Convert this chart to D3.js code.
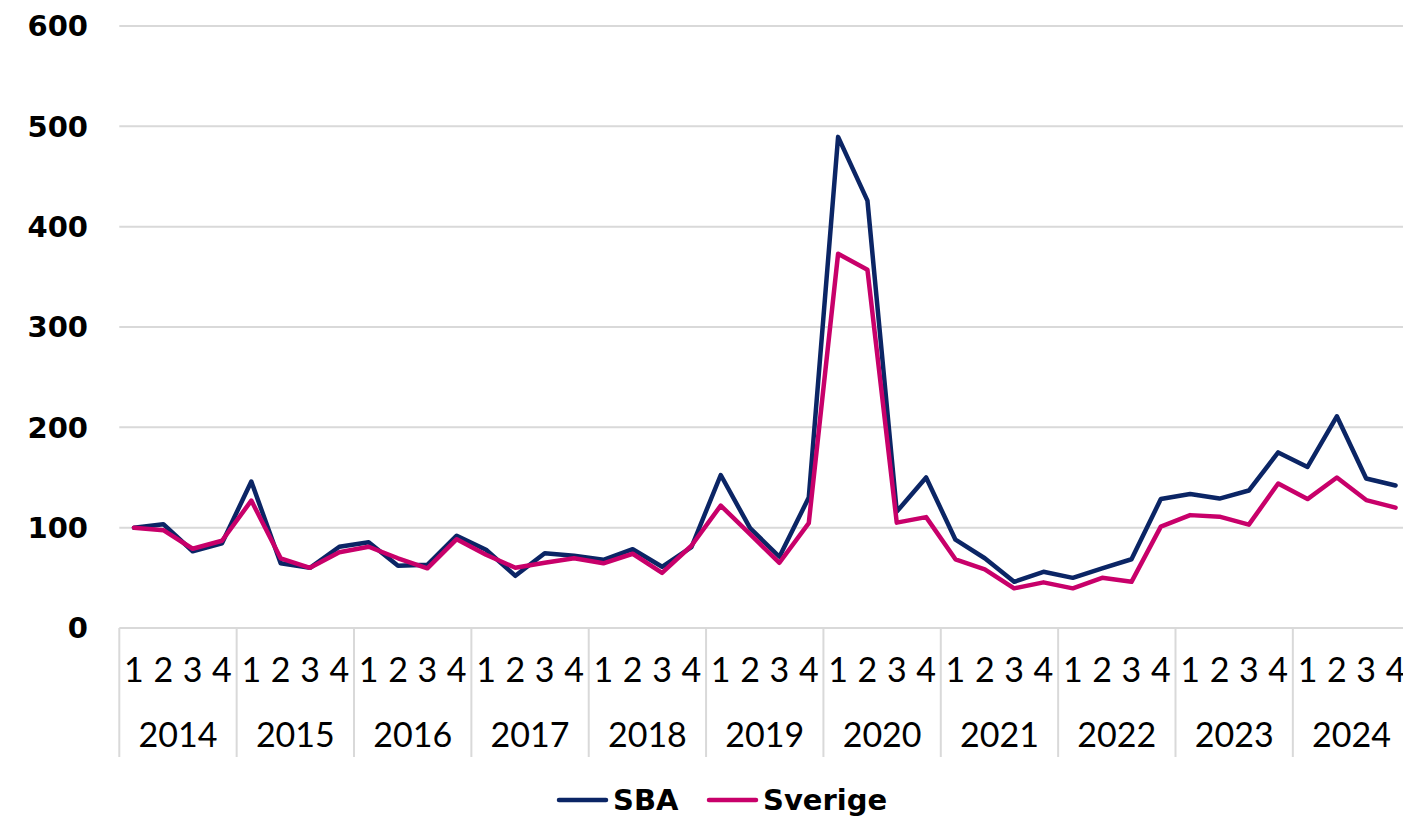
<!DOCTYPE html>
<html>
<head>
<meta charset="utf-8">
<script src="https://cdn.jsdelivr.net/npm/d3@7"></script>
<style>
  body { margin: 0; background: #fff; }
  svg { display: block; }
</style>
</head>
<body>
<script>
// data, index 100 = 2014 Q1
const years = ["2014","2015","2016","2017","2018","2019","2020","2021","2022","2023","2024"];
const quarters = ["1","2","3","4"];
const sba = [100,103.5,76.5,84.5, 146,64.5,60,81, 85.5,62,63,92, 78,52,74.5,72,
             68,78.5,61,80.5, 152.5,99.5,71,130, 489.5,426,116,150, 88,69.5,46,56,
             50,59.5,68.5,128.5, 133.5,129,137,175, 160.5,211,149,142];
const sverige = [100,97.5,79,87, 127,69.5,60,75.5, 81,69.5,59.5,88.5, 73,60,65,69.5,
                 64.5,74,55,82, 122,93.5,65,104.5, 373,357,105,110.5, 68.5,58.5,39.5,45.5,
                 39.5,50,46,101, 112.5,111,103,144, 128.5,150,127.5,120];
const yTicks = [0,100,200,300,400,500,600];
const seriesNames = ["SBA","Sverige"];
const seriesColors = ["#0b2565","#c8006a"];

const W = 1403, H = 817;
const plotLeft = 119.3, plotRight = 1410.2, plotTop = 26, plotBottom = 628;
const boldFont = "'DejaVu Sans', Lato, sans-serif";
const thinFont = "Lato, 'DejaVu Sans', sans-serif";

const svg = d3.select("body").append("svg")
  .attr("width", W).attr("height", H);

const keys = [];
years.forEach(y => quarters.forEach(q => keys.push(y + "-" + q)));

const x = d3.scalePoint().domain(keys).range([plotLeft, plotRight]).padding(0.5);
const xYear = d3.scaleBand().domain(years).range([plotLeft, plotRight]);
const y = d3.scaleLinear().domain([0, 600]).range([plotBottom, plotTop]);

// gridlines
svg.append("g").selectAll("line").data(yTicks.filter(d => d > 0)).join("line")
  .attr("x1", plotLeft).attr("x2", plotRight)
  .attr("y1", d => y(d)).attr("y2", d => y(d))
  .attr("stroke", "#d9d9d9").attr("stroke-width", 2);

// y labels
svg.append("g").selectAll("text").data(yTicks).join("text")
  .attr("x", 88).attr("y", d => y(d))
  .attr("dy", "0.36em")
  .attr("text-anchor", "end")
  .style("font-family", boldFont)
  .style("font-weight", "bold").style("font-size", "29px")
  .attr("fill", "#000")
  .text(d => d);

// x axis line + year separators
const axisG = svg.append("g");
axisG.append("line")
  .attr("x1", plotLeft).attr("x2", plotRight).attr("y1", plotBottom).attr("y2", plotBottom)
  .attr("stroke", "#d9d9d9").attr("stroke-width", 2);
const bounds = years.map(d => xYear(d)).concat([plotRight]);
axisG.selectAll("line.sep").data(bounds).join("line").attr("class", "sep")
  .attr("x1", d => d).attr("x2", d => d)
  .attr("y1", plotBottom).attr("y2", 757)
  .attr("stroke", "#d9d9d9").attr("stroke-width", 2);

// quarter labels
axisG.selectAll("text.q").data(keys).join("text").attr("class", "q")
  .attr("x", d => x(d)).attr("y", 670)
  .attr("dy", "0.36em").attr("text-anchor", "middle")
  .style("font-family", thinFont)
  .style("font-size", "34px").attr("fill", "#000")
  .text(d => d.split("-")[1]);

// year labels
axisG.selectAll("text.yr").data(years).join("text").attr("class", "yr")
  .attr("x", d => xYear(d) + xYear.bandwidth() / 2).attr("y", 735)
  .attr("dy", "0.36em").attr("text-anchor", "middle")
  .style("font-family", thinFont)
  .style("font-size", "34px").attr("fill", "#000")
  .text(d => d);

// lines
const line = d3.line().x((d, i) => x(keys[i])).y(d => y(d));
[sba, sverige].forEach((vals, k) => {
  svg.append("path")
    .datum(vals)
    .attr("d", line)
    .attr("fill", "none")
    .attr("stroke", seriesColors[k])
    .attr("stroke-width", 4.5)
    .attr("stroke-linejoin", "round")
    .attr("stroke-linecap", "round");
});

// legend
const legendX = [559, 709];
const leg = svg.append("g").selectAll("g").data(seriesNames).join("g")
  .attr("transform", (d, i) => `translate(${legendX[i]},800)`);
leg.append("line")
  .attr("x1", 0).attr("x2", 47).attr("y1", 0).attr("y2", 0)
  .attr("stroke", (d, i) => seriesColors[i]).attr("stroke-width", 4.5)
  .attr("stroke-linecap", "round");
leg.append("text")
  .attr("x", 54).attr("y", 0).attr("dy", "0.36em")
  .style("font-family", boldFont)
  .style("font-weight", "bold").style("font-size", "29px")
  .attr("fill", "#000")
  .text(d => d);
</script>
</body>
</html>
